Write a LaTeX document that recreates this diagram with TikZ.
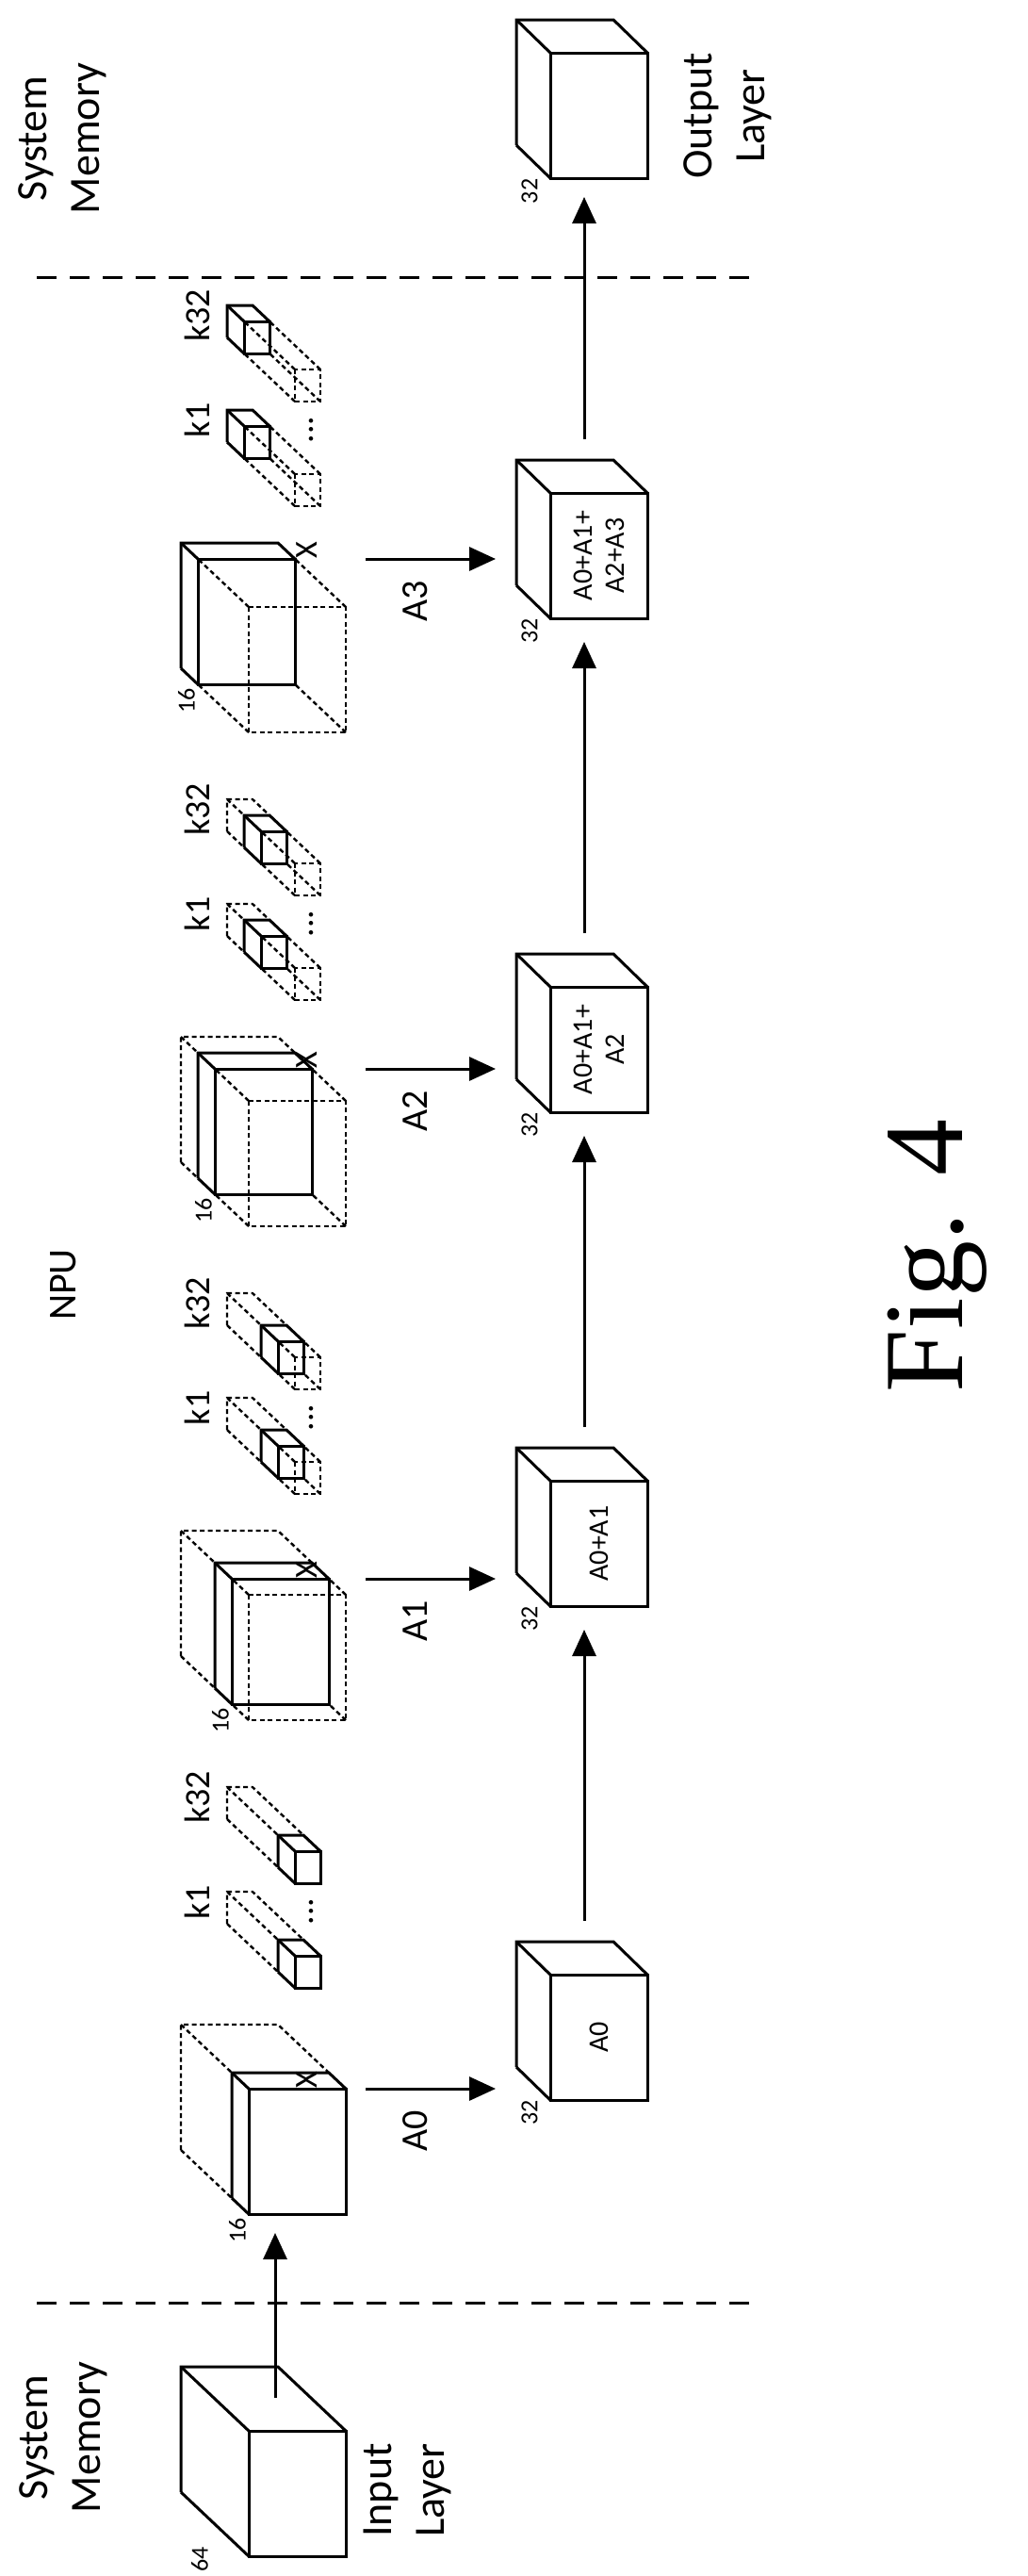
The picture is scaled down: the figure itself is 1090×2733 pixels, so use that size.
\documentclass[tikz,border=0pt]{standalone}
\usepackage{fontspec}
\setmainfont{Carlito}
\newfontfamily\figfont{Liberation Serif}
\usetikzlibrary{arrows.meta}
\newcommand{\slab}[8]{%
 \pgfmathsetmacro\ax{#1+#7*#5}\pgfmathsetmacro\ay{#2+#7*#6}%
 \pgfmathsetmacro\bx{#1+#8*#5}\pgfmathsetmacro\by{#2+#8*#6}%
 \draw[sl] ({\bx},{\by+#4}) -- ({\bx},{\by}) -- ({\bx+#3},{\by}) -- ({\ax+#3},{\ay});
 \draw[sl] ({\bx},{\by}) -- ({\ax},{\ay});
 \draw[sl] ({\bx},{\by+#4}) -- ({\ax},{\ay+#4});
 \draw[sl] ({\ax},{\ay}) rectangle ({\ax+#3},{\ay+#4});
}
\newcommand{\dfront}[7]{%
 \pgfmathsetmacro\ax{#1+#7*#5}\pgfmathsetmacro\ay{#2+#7*#6}%
 \draw[dl] (#1,#2) rectangle ({#1+#3},{#2+#4});
 \draw[dl] (#1,#2) -- ({\ax},{\ay});
 \draw[dl] ({#1+#3},#2) -- ({\ax+#3},{\ay});
 \draw[dl] (#1,{#2+#4}) -- ({\ax},{\ay+#4});
 \draw[dl] ({#1+#3},{#2+#4}) -- ({\ax+#3},{\ay+#4});
}
\newcommand{\dback}[7]{%
 \pgfmathsetmacro\ax{#1+#7*#5}\pgfmathsetmacro\ay{#2+#7*#6}%
 \pgfmathsetmacro\bx{#1+#5}\pgfmathsetmacro\by{#2+#6}%
 \draw[dl] ({\bx},{\by+#4}) -- ({\bx},{\by}) -- ({\bx+#3},{\by}) -- ({\ax+#3},{\ay});
 \draw[dl] ({\bx},{\by}) -- ({\ax},{\ay});
 \draw[dl] ({\bx},{\by+#4}) -- ({\ax},{\ay+#4});
}
\begin{document}
\begin{tikzpicture}[x=1pt,y=-1pt,
 sl/.style={line width=3pt,line join=miter},
 dl/.style={line width=2.4pt,dash pattern=on 5pt off 3.5pt},
 arr/.style={line width=3pt,-{Triangle[length=28pt,width=25pt]}},
 sep/.style={line width=3pt,dash pattern=on 21pt off 14pt},
 big/.style={rotate=90,font=\fontsize{46}{56}\selectfont,align=center},
 mid/.style={rotate=90,font=\fontsize{40}{48}\selectfont},
 small/.style={rotate=90,font=\fontsize{26}{30}\selectfont},
 inner/.style={rotate=90,font=\fontsize{30}{34}\selectfont,align=center}]
\fill[white] (0,0) rectangle (1090,2733);
\useasboundingbox (0,0) rectangle (1090,2733);
% separators
\draw[sep] (39,294) -- (808,294);
\draw[sep] (39,2443) -- (808,2443);
\node[big] (smt) at (66,147) {System\\Memory};
\node[big] (smb) at (67,2586) {System\\Memory};
\node[big] (outl) at (772,123) {Output\\Layer};
\node[big] (inl) at (432,2642) {Input\\Layer};
\node[big,font=\fontsize{42}{50}\selectfont] (npu) at (67,1363) {NPU};
\node[rotate=90,font=\figfont\fontsize{120}{130}\selectfont] (fig) at (995,1332) {Fig. 4};
% input cube
\slab{264}{2579}{103}{133}{-72}{-68}{0}{1}
\node[small] (l64) at (212,2715) {64};
\coordinate (inA) at (292,2544);
\coordinate (inB) at (292,2369);
\draw[arr] (inA) -- (inB);
% groups
\foreach \i/\lab/\txt in {0/A0/A0,1/A1/A0+A1,2/A2/{A0+A1+\\A2},3/A3/{A0+A1+\\A2+A3}}{
 \pgfmathsetmacro\fy{2216-524*\i}
 \pgfmathsetmacro\ka{2075-524*\i}
 \pgfmathsetmacro\kb{1964-524*\i}
 \pgfmathsetmacro\ay{2145-524*\i}
 \pgfmathsetmacro\oy{2095-524*\i}
 \pgfmathsetmacro\tz{0.25*\i}
 \pgfmathsetmacro\tw{0.25*\i+0.25}
 % feature
 \ifnum\i>0 \dfront{264}{\fy}{103}{133}{-72}{-68}{\tz}\fi
 \ifnum\i<3 \dback{264}{\fy}{103}{133}{-72}{-68}{\tw}\fi
 \slab{264}{\fy}{103}{133}{-72}{-68}{\tz}{\tw}
 \node[small] (s16-\i) at ({264-72*\tz-12},{\fy+133-68*\tz+17}) {16};
 % kernels
 \foreach \k in {\ka,\kb}{
  \ifnum\i>0 \dfront{313}{\k}{27}{34}{-72}{-68}{\tz}\fi
  \ifnum\i<3 \dback{313}{\k}{27}{34}{-72}{-68}{\tw}\fi
  \slab{313}{\k}{27}{34}{-72}{-68}{\tz}{\tw}
 }
 \node[mid,font=\fontsize{38}{44}\selectfont] (k1-\i) at (209,{\ka-57}) {k1};
 \node[mid,font=\fontsize{38}{44}\selectfont] (k32-\i) at (209,{\kb-57}) {k32};
 \node[mid,font=\fontsize{38}{44}\selectfont] (dots-\i) at (330,{\ka-47}) {...};
 \node[mid,font=\fontsize{34}{40}\selectfont] (x-\i) at (326,{\ay-9}) {X};
 % arrow
 \coordinate (aS-\i) at (388,\ay);
 \coordinate (aE-\i) at (526,\ay);
 \draw[arr] (aS-\i) -- (aE-\i);
 \node[mid] (al-\i) at (441,{\ay+45}) {\lab};
 % output cube
 \slab{584}{\oy}{103}{133}{-36}{-35}{0}{1}
 \node[inner] (o-\i) at (635.5,{\oy+66.5}) {\txt};
 \node[small] (s32-\i) at (562,{\oy+146}) {32};
 \coordinate (up-\i) at (620,{\oy-35-22});
}
% output cube
\slab{584}{56}{103}{133}{-36}{-35}{0}{1}
\node[small] (s32o) at (562,203) {32};
\coordinate (dn-1) at (620,{2095-524+133+25});
\coordinate (dn-2) at (620,{2095-1048+133+25});
\coordinate (dn-3) at (620,{2095-1572+133+25});
\coordinate (dn-4) at (620,{56+133+20});
\draw[arr] (up-0) -- (dn-1);
\draw[arr] (up-1) -- (dn-2);
\draw[arr] (up-2) -- (dn-3);
\draw[arr] (up-3) -- (dn-4);
\end{tikzpicture}
\end{document}
